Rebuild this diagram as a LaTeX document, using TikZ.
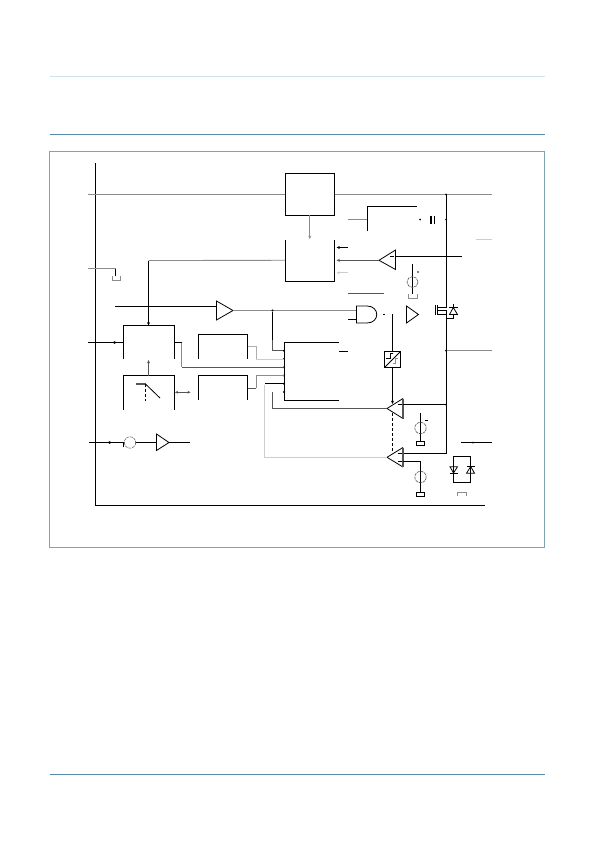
\documentclass[tikz,border=0pt]{standalone}
\usetikzlibrary{arrows.meta}
\definecolor{rule}{RGB}{85,140,165}
\definecolor{pale}{RGB}{205,228,234}
\definecolor{framec}{RGB}{125,165,180}
\definecolor{midg}{RGB}{140,140,140}
\definecolor{dkg}{RGB}{85,85,85}
\definecolor{ltg}{RGB}{205,205,205}
\tikzset{
  x=1pt,y=-1pt,
  wire/.style={draw=black,line width=0.85pt},
  graywire/.style={draw=midg,line width=0.85pt},
  darkwire/.style={draw=dkg,line width=0.85pt},
  lightwire/.style={draw=ltg,line width=0.85pt},
  sym/.style={draw=black,line width=0.8pt},
  thinsym/.style={draw=black,line width=0.5pt},
  tip/.style={-{Stealth[length=3.4pt,width=3pt]}},
  dot/.style={circle,fill=black,inner sep=0pt,minimum size=2.4pt},
}
\begin{document}
\begin{tikzpicture}
\useasboundingbox (0,0) rectangle (594,841);
\fill[white] (0,0) rectangle (594,841);
% page rules and frame
\draw[pale,line width=0.7pt] (49.5,76.5) -- (545,76.5);
\draw[rule,line width=0.9pt] (49.5,134.5) -- (545,134.5);
\draw[rule,line width=0.9pt] (49.5,774.5) -- (545,774.5);
\draw[framec,line width=0.9pt] (49.5,151) rectangle (544.5,547);
% bus
\coordinate (busT) at (95.5,163);
\coordinate (busC) at (95.5,505.5);
\coordinate (busE) at (485,505.5);
\draw[wire] (busT) -- (busC) -- (busE);
% closed box
\coordinate (b1a) at (285,173);
\coordinate (b1b) at (334.5,215);
\draw[wire] (b1a) rectangle (b1b);
\coordinate (b1W) at (285,194.5);
\coordinate (b1E) at (334.5,194.5);
\coordinate (b1S) at (309.8,215);
\coordinate (rail) at (446,194.5);
\coordinate (leftT) at (88,194.5);
\coordinate (rightT) at (492,194.5);
\draw[graywire] (leftT) -- (b1W);
\draw[graywire] (b1E) -- (rightT);
% box 2
\draw[wire] (285,240) -- (285,281.5) -- (334.5,281.5) -- (334.5,240);
\coordinate (b2W) at (285,260.3);
\coordinate (b2N) at (309.8,239);
\draw[graywire,tip] (b1S) -- (b2N);
\node[dot,minimum size=2pt] at (446,194.5) {};
% rail
\coordinate (railA) at (446,302);
\coordinate (railB) at (446,453);
\coordinate (railMid) at (446,350.5);
\coordinate (railOut) at (492,350.5);
\draw[wire] (rail) -- (railA);
\draw[wire] (446,318) -- (railB) -- (403,453);
\draw[graywire] (railMid) -- (railOut);
\node[dot,minimum size=2pt] at (railMid) {};
% switch block
\coordinate (sw1W) at (123.5,342.5);
\draw[wire] (123.5,359) -- (123.5,325.5) -- (174.5,325.5) -- (174.5,359);
\draw[wire] (148.5,260.5) -- (148.5,322);
\draw[wire,tip] (148.5,318) -- (148.5,325.5);
\draw[graywire] (148.5,260.5) -- (b2W);
\draw[wire] (88,342.5) -- (sw1W);
\draw[tip,line width=0.4pt] (112,342.5) -- (117,342.5);
% small terminal
\draw[graywire] (88,268.5) -- (115.5,268.5);
\draw[wire] (115.5,268.5) -- (115.5,276);
\draw[draw=midg,line width=0.7pt] (112,276) -- (112,280) -- (120,280) -- (120,276);
% buffer 1
\coordinate (buf1In) at (216.5,306);
\coordinate (buf1Out) at (233,310.5);
\coordinate (and1) at (356.5,310.5);
\draw[wire] (115,306) -- (buf1In);
\draw[sym] (216.5,301) -- (233,310.5) -- (216.5,320) -- cycle;
\draw[graywire] (buf1Out) -- (and1);
\node[dot] (j1) at (272.5,310.5) {};
\coordinate (mIn1) at (284,350.7);
\coordinate (mIn2) at (284,359);
\coordinate (mIn3) at (284,367.3);
\coordinate (mIn4) at (284,375.5);
\coordinate (mIn5) at (284,383.7);
\coordinate (mIn6) at (284,392);
\draw[wire] (j1) -- (272.5,340);
\draw[darkwire] (272.5,340) -- (272.5,350.7) -- (mIn1);
% main block
\draw[wire] (339,342) -- (284,342) -- (284,400) -- (339,400);
\draw[wire] (339,351) -- (348,351);
\foreach \p in {mIn1,mIn2,mIn3,mIn4,mIn5,mIn6} \node[dot,minimum size=2.2pt] at (\p) {};
% second row boxes
\draw[wire] (198,359) -- (198,334.5) -- (247.5,334.5) -- (247.5,359);
\draw[wire] (198,400) -- (198,375.5) -- (247.5,375.5) -- (247.5,400);
\draw[draw=midg!70,line width=0.85pt] (247.5,346) -- (256,346) -- (256,359);
\draw[lightwire] (256,359) -- (mIn2);
\draw[darkwire] (247.5,388) -- (256,388);
\draw[graywire] (256,388) -- (256,375.5) -- (mIn4);
\draw[wire] (174.5,342.5) -- (181.5,342.5);
\draw[graywire] (181.5,342.5) -- (181.5,367.3);
\draw[darkwire] (181.5,367.3) -- (mIn3);
% switch
\draw[wire] (123.5,410) -- (123.5,375.5) -- (174.5,375.5) -- (174.5,410);
\draw[darkwire,tip] (148.5,375.5) -- (148.5,360);
\draw[dkg,line width=1.5pt] (136,384) -- (145.5,384);
\draw[sym] (145.5,384) -- (160,398);
\draw[sym,dash pattern=on 3pt off 2pt] (145.5,384) -- (145.5,401);
\draw[{Stealth[length=3pt,width=2.8pt]}-{Stealth[length=3pt,width=2.8pt]},draw=dkg,line width=0.5pt] (175,392.3) -- (190.5,392.3);
% lower left
\coordinate (srcIn) at (89,442.5);
\coordinate (buf2In) at (156.5,442.5);
\coordinate (buf2Out) at (169,442.5);
\draw[wire] (srcIn) -- (buf2In);
\draw[tip,line width=0.4pt] (107,442.5) -- (112,442.5);
\draw[draw=dkg,fill=white,line width=0.5pt,dash pattern=on 3pt off 0.8pt] (130,442.5) circle (5.7);
\draw[thinsym] (123,442) -- (123,447);
\draw[sym] (156.5,434) -- (169,442.5) -- (156.5,450.5) -- cycle;
\draw[wire] (buf2Out) -- (189.5,442.5);
% comparator top
\coordinate (c0apex) at (379,260.3);
\draw[sym] (c0apex) -- (395.5,250) -- (395.5,269.5) -- cycle;
\draw[wire] (395.5,256.5) -- (462,256.5);
\draw[thinsym] (390,256.5) -- (394,256.5);
\draw[darkwire,tip] (c0apex) -- (336.5,260.3);
\draw[wire,tip] (348,247.5) -- (336.5,247.5);
\draw[lightwire,tip] (348,272.8) -- (336.5,272.8);
\draw[draw=midg,line width=0.7pt] (348,219.5) -- (367,219.5);
\draw[wire] (367,231) -- (367,206.5) -- (417,206.5);
\node[dot,minimum size=2pt] at (420,219.5) {};
\node[dot,minimum size=2pt] at (446,219.5) {};
\draw[line width=1.1pt] (431,215.5) -- (431,223.5);
\draw[line width=1.1pt] (434.5,215.5) -- (434.5,223.5);
\draw[draw=ltg,line width=0.7pt] (476,239.5) -- (492,239.5);
% current source upper
\draw[sym] (412.5,264) -- (412.5,294);
\draw[draw=dkg,line width=0.6pt,dash pattern=on 3pt off 0.8pt] (412.5,282) circle (5.5);
\draw[draw=midg,line width=0.7pt] (408.5,294) -- (408.5,298) -- (417.5,298) -- (417.5,294);
\node[dot,minimum size=1.8pt] at (418,272) {};
\draw[draw=dkg,line width=0.8pt] (348,293) -- (384,293);
% AND gate
\draw[wire] (348,319.5) -- (356.5,319.5);
\draw[sym] (356.5,306) -- (367,306) .. controls (380,306) and (380,323) .. (367,323) -- (356.5,323) -- cycle;
\draw[thinsym] (383,314.5) -- (385,314.5);
\draw[sym] (406.5,306) -- (418.5,314.5) -- (406.5,323) -- cycle;
% Schmitt
\coordinate (stT) at (392.5,351);
\coordinate (stB) at (392.5,367.5);
\draw[wire] (392.5,313.5) -- (stT);
\draw[wire] (384.5,351.5) rectangle (400.5,367.5);
\draw[sym] (384.5,367.5) -- (400.5,351.5);
\draw[thinsym] (386,358) -- (390,358) -- (390,353.5) -- (393,353.5);
\draw[draw=midg,line width=0.5pt] (393,363) -- (395,363) -- (395,358) -- (398,358);
\draw[wire] (stB) -- (392.5,400);
\draw[wire,tip] (392.5,400) -- (392.5,404);
% comparators
\coordinate (c1apex) at (387,408.5);
\coordinate (c2apex) at (387,457.3);
\draw[sym] (c1apex) -- (403,398.5);
\draw[sym] (c1apex) -- (403,418.5);
\draw[dkg,line width=1.4pt] (403,398.5) -- (403,418.5);
\draw[sym] (c2apex) -- (403,447.5);
\draw[sym] (c2apex) -- (403,467);
\draw[dkg,line width=1.1pt] (403,447.5) -- (403,467);
\draw[wire] (403,404.5) -- (446,404.5);
\node[dot,minimum size=2pt] at (446,404.5) {};
\draw[thinsym] (398,404.5) -- (402,404.5);
\draw[thinsym] (398,453) -- (402,453);
\draw[thinsym] (398,461.5) -- (402,461.5);
\draw[wire,dash pattern=on 3pt off 2pt] (392.5,413) -- (392.5,452);
\draw[darkwire] (c1apex) -- (272.5,408.5) -- (272.5,392);
\draw[wire] (265,383.7) -- (mIn5);
\draw[lightwire] (264.5,384.5) -- (264.5,457.3) -- (c2apex);
% current sources lower
\draw[sym] (420.5,413) -- (420.5,441.5);
\draw[draw=dkg,line width=0.6pt,dash pattern=on 3pt off 0.8pt] (420.5,428) circle (5.7);
\draw[thinsym] (424.5,420.5) -- (427.5,420.5);
\draw[line width=0.8pt] (416.5,441.5) rectangle (424.5,445.5);
\draw[sym] (403,461.5) -- (420.5,461.5) -- (420.5,492);
\draw[draw=dkg,line width=0.6pt,dash pattern=on 3pt off 0.8pt] (420.5,477) circle (5.7);
\draw[line width=0.8pt] (416.5,492) rectangle (424.5,496);
% right bottom
\draw[wire] (461,442.5) -- (492,442.5);
\node[dot,minimum size=2pt] at (473,442.5) {};
\draw[sym] (453.5,456) rectangle (470.7,482.3);
\draw[sym] (450,466.7) -- (457.5,466.7) -- (453.5,473) -- cycle;
\draw[sym] (450,473) -- (457.5,473);
\draw[sym] (466.5,473.3) -- (470.7,466.5) -- (474.5,473.3) -- cycle;
\draw[sym] (466.5,466.5) -- (474.5,466.5);
\draw[draw=midg,line width=0.6pt] (457.5,496) -- (457.5,492.5) -- (466.5,492.5) -- (466.5,496);
% MOSFET
\draw[sym] (435,305) -- (435,315);
\draw[sym] (437.5,305) -- (437.5,315);
\draw[sym] (437.5,307) -- (446,307) -- (446,302);
\draw[sym] (437.5,310.5) -- (446,310.5) -- (446,318);
\draw[sym] (437.5,314) -- (446,314);
\draw[sym] (453.3,304) -- (453.3,318.3) -- (446,318.3);
\draw[sym,fill=white] (449.5,314.5) -- (453.3,307.5) -- (457.5,314.5) -- cycle;
\draw[sym] (449,307.5) -- (458,307.5);
\end{tikzpicture}
\end{document}
